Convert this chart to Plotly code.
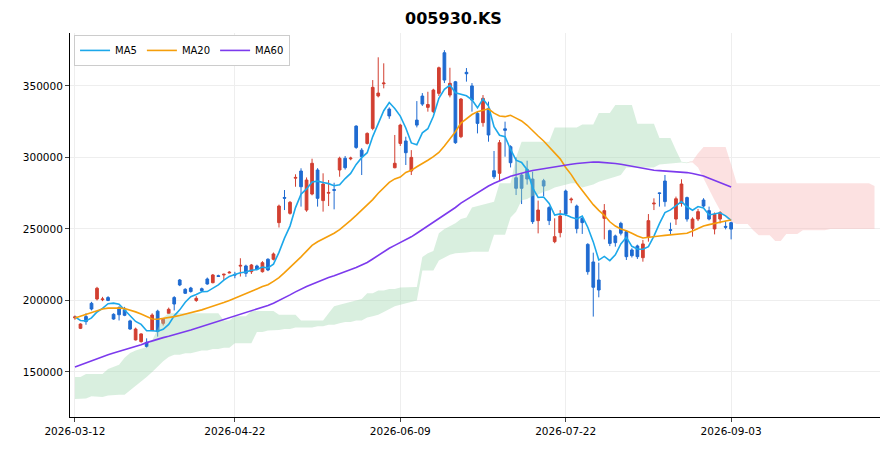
import numpy as np
import pandas as pd
import plotly.graph_objects as go

# candles, in thousands of won
opens = [187.8, 180.5, 188.7, 198, 201, 200.5, 202, 190.3, 195, 193.3,
         185.7, 172.4, 171.2, 170.7, 179, 192.5, 184, 191, 202, 214.3,
         207.8, 208.7, 200, 208.2, 215, 212.4, 217.3, 217.8, 219.2, 218.2,
         224, 224.1, 220.1, 224.1, 220.1, 228.8, 228.8, 254.4, 272, 260.9,
         285.5, 290.5, 263.2, 274.4, 291.2, 269.8, 275, 277.5, 291.2, 299.4,
         299, 321.9, 305.1, 309.8, 320.3, 343, 351.5, 333.8, 292.8, 309.8,
         311.5, 290.5, 326.1, 342.9, 335, 332, 344.8, 373.2, 343.6, 352.9,
         314.5, 359.5, 350, 330.8, 324.3, 334.3, 290.7, 288.9, 320, 307.5,
         285.8, 287.7, 291.7, 284.9, 255.8, 283.7, 264.9, 241.1, 247.4, 276.5,
         270.3, 266, 257.4, 239.2, 226.9, 214.3, 257.4, 248.8, 245.1, 253.9,
         248.1, 235.3, 238.1, 229.9, 244.1, 267.5, 275.2, 283.5, 249.5, 256.9,
         267.9, 271.9, 250.4, 256.9, 270.2, 262.8, 250, 256.9, 251.8, 254.4]
highs = [189.5, 184, 191, 199, 209.5, 202.5, 203, 191, 196, 195.5,
         186.5, 181, 177, 173.5, 191, 193.5, 187.5, 195, 203, 215,
         208.5, 209.5, 203, 209, 216, 218.5, 218, 218.7, 220.5, 220,
         229.5, 225, 225.5, 225, 227.5, 229.5, 233.5, 267, 277.2, 269.5,
         288.2, 292.4, 286, 299.1, 292.5, 288.9, 284.2, 282.3, 300.5, 301,
         300.5, 322.5, 306.5, 317.5, 354.1, 370, 365.8, 335, 315.7, 323.5,
         314.5, 305.1, 339.4, 345, 345.9, 348, 363.5, 375, 362.7, 353.5,
         341.5, 362.5, 352, 332, 343.6, 339, 304.5, 312.2, 325, 308.5,
         300, 288.5, 297.7, 290, 269.8, 285, 266, 257.4, 263.2, 277.5,
         272, 267, 259, 240, 233.4, 226.4, 267.4, 249.5, 246, 255,
         249, 236.5, 239, 242.3, 260.4, 271.4, 275.5, 287.7, 254.4, 272.6,
         284.7, 272.6, 258.1, 264, 271.5, 265.6, 261.5, 262.5, 255.5, 255]
lows = [186.5, 180, 183, 193, 200, 199.5, 199.5, 186.5, 186, 189,
        179.5, 172, 170.5, 167, 178.5, 174.7, 182.5, 190.5, 193, 210,
        204.5, 205.5, 199, 206, 211, 212, 216.5, 214.3, 219, 215.5,
        216.7, 216.5, 218.5, 221, 219.5, 220.5, 228, 251, 263.2, 260,
        279.5, 265.6, 262, 273.5, 265.6, 262.1, 266, 263.7, 286.5, 291.5,
        298, 306, 287.7, 309, 319, 342, 348.3, 327, 292.4, 308,
        294.7, 287.7, 321, 336, 332, 331, 343, 352, 342, 309.5,
        313.5, 353, 332, 316.8, 321.5, 311, 285, 283.5, 300.5, 293,
        273.7, 267.4, 281, 253.5, 246.9, 273, 252.7, 240, 244.1, 259,
        268, 246.9, 246.5, 218, 188.7, 202.2, 242.7, 238, 237.6, 245.5,
        228.3, 230, 229, 227.1, 241.1, 263.2, 265.6, 265.6, 245.8, 252.8,
        265.6, 255.1, 244.6, 255.5, 265.1, 256, 246.2, 253.9, 249.7, 242.7]
closes = [188.5, 183.5, 185.2, 194, 208.5, 201, 200, 187, 190, 189.6,
          180, 180, 176.6, 167.8, 189.8, 178.2, 186.8, 193.8, 197.5, 210.8,
          205, 206.2, 201.5, 206.8, 211.5, 217.8, 216.8, 218.3, 219.7, 217.8,
          224.5, 219, 224.8, 221.8, 226.4, 221.3, 232.5, 266, 271.5, 268.6,
          286, 279.5, 284.2, 295.9, 271.4, 281.4, 275.5, 277, 299.4, 292.8,
          299.5, 307, 300.5, 316.8, 349, 345, 352, 329, 295.9, 322.6,
          303.3, 300, 322.6, 337.3, 337, 347.1, 362.7, 354.1, 351.8, 310.3,
          340.8, 358.5, 340.1, 323.8, 341.3, 315.7, 286.5, 310.3, 319, 296.3,
          278.4, 278.4, 284.9, 255.1, 263.2, 280, 255.8, 244.6, 259, 260.4,
          270.8, 250.2, 254.4, 220.1, 209.2, 207.3, 262.8, 239.9, 240.4, 247,
          230.6, 231.3, 230.6, 239.5, 255.8, 268, 274.8, 269.1, 249, 271.1,
          281.4, 256.9, 256.9, 262.1, 266, 256.9, 260.2, 261.4, 251.2, 249.9]

ma20 = [187.7, 189, 190.5, 191.8, 193, 194, 194.6, 194.8, 194.7, 194.3,
        193.3, 192, 190.5, 188.5, 187, 186.8, 187.3, 188, 188.7, 189.5,
        190.4, 191.3, 192.4, 193.4, 194.7, 195.8, 197, 198.5, 200, 201.5,
        203, 205, 206.5, 208, 209.7, 211, 213.3, 216, 219.5, 223,
        227, 230.5, 234.5, 238.5, 241, 243, 244.5, 247, 249.5, 252.5,
        256, 259.5, 263, 267, 270.5, 275, 279, 282.5, 285, 286.3,
        289.5, 291, 293.5, 295.5, 298, 300.5, 303.5, 308, 313, 318,
        324, 327, 330, 332, 333, 334, 331, 329, 328.5, 329.5,
        327.5, 325.5, 322.5, 318.5, 315, 311.5, 307.5, 303.5, 299, 293,
        288, 282, 277, 272, 267, 263, 259.5, 255, 252, 250,
        248.8, 247, 245, 243.7, 244, 244.5, 245, 245.5, 245.8, 246.2,
        246.5, 247, 248.5, 250.5, 252, 253, 254, 255, 255.5, 256.3]
ma60 = [153.5, 155, 156.5, 158, 159.5, 160.8, 162, 163.2, 164.3, 165.5,
        166.5, 167.8, 169, 170.5, 171.8, 173, 174, 175, 176, 177,
        178.2, 179.4, 180.6, 181.8, 183, 184.3, 185.7, 187, 188, 189.2,
        190.3, 191.5, 192.5, 193.8, 195, 196.5, 198, 199.8, 201.8, 203.9,
        206, 208, 209.7, 211.3, 213, 214.7, 216, 217.3, 218.7, 220,
        221.5, 223, 224.8, 226.5, 229, 231.5, 234.5, 236.5, 238.5, 240.5,
        242.3, 244.5, 247, 249.5, 252, 254.5, 257, 259.5, 262.5, 265,
        268, 270.5, 273, 275.5, 278, 280, 282, 283.8, 285.3, 286.8,
        288, 289, 290, 290.8, 291.5, 292, 292.8, 293.5, 294, 294.7,
        295.2, 295.7, 296.2, 296.6, 296.8, 296.7, 296.5, 296.2, 295.8, 295.2,
        294.5, 293.8, 293, 292.2, 291.4, 291, 290.8, 290.6, 290.4, 290.2,
        289.8, 289.4, 288.8, 288, 287, 285.5, 284, 282.5, 281, 279.3]

# ichimoku leading spans, 26 periods past the last candle
span_a = ([146.5] * 2 + [148.5] * 4 + [152, 153.5, 155] + [160, 163.3, 165, 166.5, 167.5]
          + [172, 180, 188] + [191] * 10 + [186] * 2 + [189] * 3 + [192.6] * 5
          + [190] * 4 + [186] * 5 + [191] + [196, 197, 198, 199, 200, 201]
          + [205, 205, 207, 207, 208, 208, 209, 209, 209.4] + [209.4]
          + [230.4, 233, 234.5] + [247, 250, 252, 254] + [257, 258]
          + [265, 266, 267, 268, 269] + [282] * 3 + [300] + [311] * 6 + [321] * 5
          + [323] * 3 + [331] * 3 + [336.6] * 4 + [323.5] * 4 + [313.6] * 3
          + [305, 297, 296.5, 296.5] + [293, 285, 277, 270, 263, 258, 255]
          + [253.5] * 3 + [249] + [245.5] * 3 + [241.5] * 2 + [246.5] * 3
          + [249] * 5 + [250] * 9)
span_b = ([131, 131, 131.5] + [133, 132.5, 132.5, 133.5] + [134] * 3
          + [137, 140, 143, 146.5, 150, 154, 157.5, 160.5]
          + [162, 162, 163, 163, 164, 165, 165, 166, 166, 167, 167] + [170] * 4
          + [178, 178, 179, 179, 179.4, 180, 180, 181, 181, 181, 181]
          + [182, 182, 183, 183, 184, 185, 185, 186, 186]
          + [188, 189, 190, 192, 194, 196, 197, 198, 199] + [200] + [221] * 3
          + [228, 230, 232] + [233, 233, 233.5, 234, 234, 234, 234] + [246] * 3
          + [258, 262] + [270, 271, 273, 274, 276, 277] + [279, 280, 281, 282, 282]
          + [279, 280, 281, 283, 284, 285.5, 286.5, 287.7] + [293] * 6
          + [295, 295.5, 296, 296, 296.5] + [296, 297.5] + [303] + [307.3] * 5
          + [295] + [282] * 25 + [280])

tick_idx = [0, 29, 59, 89, 119]
tick_labels = ["2026-03-12", "2026-04-22", "2026-06-09", "2026-07-22", "2026-09-03"]

k = 1000
df = pd.DataFrame({"open": opens, "high": highs, "low": lows, "close": closes}) * k
df["ma5"] = df["close"].rolling(5, min_periods=1).mean()
x = np.arange(len(df))

a = np.array(span_a) * k
b = np.array(span_b) * k
xc = np.arange(len(a))

fig = go.Figure()

# green cloud (span A above span B)
fig.add_trace(go.Scatter(x=xc, y=b, mode="lines", line=dict(width=0), showlegend=False, hoverinfo="skip"))
fig.add_trace(go.Scatter(x=xc, y=np.where(a >= b, a, b), mode="lines", line=dict(width=0),
                         fill="tonexty", fillcolor="rgba(160,215,175,0.4)", showlegend=False, hoverinfo="skip"))
# red cloud (span B above span A)
fig.add_trace(go.Scatter(x=xc, y=a, mode="lines", line=dict(width=0), showlegend=False, hoverinfo="skip"))
fig.add_trace(go.Scatter(x=xc, y=np.where(b > a, b, a), mode="lines", line=dict(width=0),
                         fill="tonexty", fillcolor="rgba(248,180,180,0.4)", showlegend=False, hoverinfo="skip"))

fig.add_trace(go.Candlestick(
    x=x, open=df["open"], high=df["high"], low=df["low"], close=df["close"],
    increasing=dict(line=dict(color="#d23f31", width=1), fillcolor="#d23f31"),
    decreasing=dict(line=dict(color="#1f6bd1", width=1), fillcolor="#1f6bd1"),
    whiskerwidth=0, showlegend=False))

fig.add_trace(go.Scatter(x=x, y=df["ma5"], mode="lines", name="MA5", line=dict(color="#1ca8ea", width=1.6)))
fig.add_trace(go.Scatter(x=x, y=np.array(ma20) * k, mode="lines", name="MA20", line=dict(color="#f59e0b", width=1.6)))
fig.add_trace(go.Scatter(x=x, y=np.array(ma60) * k, mode="lines", name="MA60", line=dict(color="#7c3aed", width=1.6)))

fig.update_layout(
    width=891, height=451,
    paper_bgcolor="white", plot_bgcolor="white",
    margin=dict(l=62, r=19, t=25, b=42, autoexpand=False),
    font=dict(family="DejaVu Sans", size=10.5, color="black"),
    title=dict(text="<b>005930.KS</b>", x=0.5, xanchor="center", y=0.977, yanchor="middle",
               font=dict(size=16)),
    legend=dict(orientation="h", traceorder="normal", x=0.005, y=0.995, xanchor="left", yanchor="top",
                bgcolor="white", bordercolor="#cccccc", borderwidth=1, font=dict(size=10)),
    showlegend=True,
)
fig.update_xaxes(range=[-0.9, 146], tickvals=[x[i] for i in tick_idx], ticktext=tick_labels,
                 rangeslider=dict(visible=False), showgrid=True, gridcolor="#eeeeee",
                 showline=True, linecolor="black", ticks="outside", ticklen=4, zeroline=False,
                 automargin=False)
fig.update_yaxes(range=[118500, 387000], tickvals=[150000, 200000, 250000, 300000, 350000],
                 tickformat="d", showgrid=True, gridcolor="#eeeeee",
                 showline=True, linecolor="black", ticks="outside", ticklen=4, zeroline=False,
                 automargin=False)

fig.write_html("out.html")
